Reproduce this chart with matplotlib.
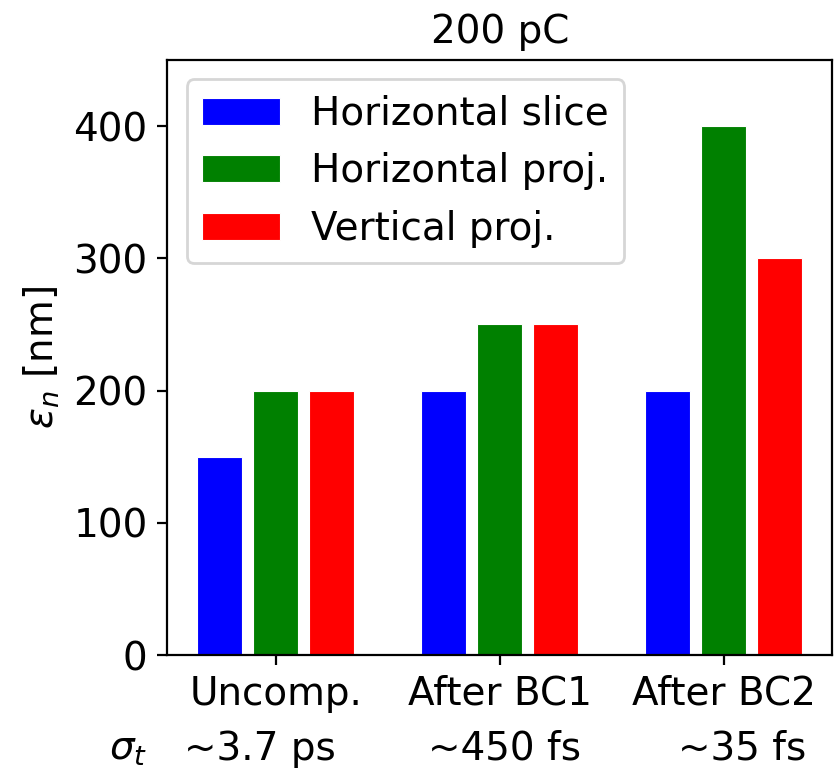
import numpy as np
import matplotlib
matplotlib.use("Agg")
import matplotlib.pyplot as plt

# emittance per compression stage, 200 pC
stages = ["Uncomp.", "After BC1", "After BC2"]
bunch_lengths = ["~3.7 ps", "~450 fs", "~35 fs"]
horiz_slice = [150, 200, 200]
horiz_proj = [200, 250, 400]
vert_proj = [200, 250, 300]

series = [
    ("Horizontal slice", horiz_slice, "blue"),
    ("Horizontal proj.", horiz_proj, "green"),
    ("Vertical proj.", vert_proj, "red"),
]

plt.rcParams["font.size"] = 14

fig = plt.figure(figsize=(4.2, 3.84), dpi=200)
ax = fig.add_axes([0.199, 0.147, 0.792, 0.775])

x = np.arange(len(stages))
for j, (label, vals, color) in enumerate(series):
    ax.bar(x + (j - 1) * 0.25, vals, width=0.2, color=color,
           edgecolor="white", linewidth=0.4, label=label)

ax.set_xticks(x)
ax.set_xticklabels(stages)
ax.set_ylim(0, 450)
ax.set_yticks([0, 100, 200, 300, 400])
ax.set_ylabel(r"$\varepsilon_n$ [nm]")
ax.set_title("200 pC", fontsize=14)
ax.legend(loc="upper left")

# second row under the stage names: rms bunch length
offsets = [-0.07, 0.02, 0.08]
for xi, dx, txt in zip(x, offsets, bunch_lengths):
    ax.annotate(txt, xy=(xi + dx, -0.157), xycoords=("data", "axes fraction"),
                ha="center", va="center", annotation_clip=False)
ax.annotate(r"$\sigma_t$", xy=(-0.66, -0.157), xycoords=("data", "axes fraction"),
            ha="center", va="center", annotation_clip=False)

fig.savefig("out.png", dpi=200)
